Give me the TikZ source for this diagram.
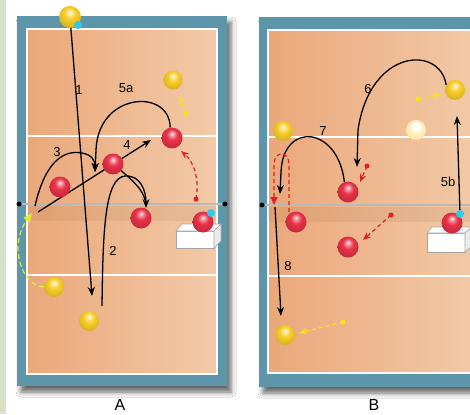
\documentclass[tikz,border=0pt]{standalone}
\usepackage{fontspec}
\setmainfont{Liberation Sans}
\usetikzlibrary{arrows.meta,shadows.blur}
\definecolor{frameblue}{RGB}{93,150,170}
\definecolor{courtL}{RGB}{234,168,122}
\definecolor{courtR}{RGB}{243,202,168}
\definecolor{sage}{RGB}{214,226,198}
\definecolor{redball}{RGB}{234,50,72}
\definecolor{yelball}{RGB}{250,206,40}
\definecolor{paleball}{RGB}{255,240,190}
\definecolor{cyandot}{RGB}{50,200,235}
\definecolor{dashred}{RGB}{228,30,40}
\definecolor{dashyel}{RGB}{248,228,20}
\definecolor{dashlime}{RGB}{220,232,70}
\pgfdeclareradialshading{redsh}{\pgfpoint{0bp}{11bp}}{color(0bp)=(white); color(4bp)=(redball!45!white); color(13bp)=(redball); color(30bp)=(redball!82!black); color(50bp)=(redball!75!black)}
\pgfdeclareradialshading{yelsh}{\pgfpoint{0bp}{11bp}}{color(0bp)=(white); color(4bp)=(yelball!40!white); color(13bp)=(yelball); color(30bp)=(yelball!85!black); color(50bp)=(yelball!78!black)}
\pgfdeclareradialshading{palesh}{\pgfpoint{0bp}{11bp}}{color(0bp)=(white); color(8bp)=(white); color(16bp)=(paleball); color(30bp)=(paleball!85!orange); color(50bp)=(paleball!80!orange)}
\pgfdeclarelayer{front}
\pgfsetlayers{main,front}
\tikzset{
  redp/.style={circle, inner sep=0pt, minimum size=21pt, shading=redsh},
  yelp/.style={circle, inner sep=0pt, minimum size=20pt, shading=yelsh},
  palep/.style={circle, inner sep=0pt, minimum size=20pt, shading=palesh},
  cyanp/.style={circle, fill=cyandot, inner sep=0pt, minimum size=8pt},
  reddot/.style={circle, fill=dashred, inner sep=0pt, minimum size=5pt},
  yeldot/.style={circle, fill=dashyel, inner sep=0pt, minimum size=5pt},
  courtframe/.style={fill=frameblue, blur shadow={shadow xshift=4pt, shadow yshift=-6pt, shadow blur radius=5pt, shadow opacity=60}},
  courtarea/.style={left color=courtL, right color=courtR, draw=white, line width=2pt},
  attackline/.style={white, line width=2pt},
  netband/.style={fill=brown!70!black, opacity=0.10},
  netline/.style={black!70, line width=0.6pt, double=gray!55, double distance=1.6pt},
  netend/.style={circle, fill=black, inner sep=0pt, minimum size=5pt},
  movearrow/.style={line width=1.3pt, -{Stealth[length=9pt,width=7pt]}},
  plainmove/.style={line width=1.3pt},
  redmove/.style={dashred, line width=1.2pt, dash pattern=on 4pt off 3pt, -{Stealth[length=8pt,width=6.5pt]}},
  redloop/.style={dashred, line width=1.2pt, dash pattern=on 4pt off 3pt, -{Triangle[length=8pt,width=7pt]}},
  yelmove/.style={dashyel, line width=1.2pt, dash pattern=on 4pt off 3pt, -{Stealth[length=8pt,width=6.5pt]}},
  limemove/.style={dashlime, line width=1.2pt, dash pattern=on 5pt off 3pt, -{Triangle[length=9pt,width=8pt,fill=dashyel]}},
  boxface/.style={fill=white, draw=gray!70, line width=0.6pt},
  boxside/.style={fill=gray!15, draw=gray!70, line width=0.6pt},
  lbl/.style={font=\fontsize{13}{15}\selectfont, inner sep=0pt},
  capletter/.style={font=\fontsize{16}{18}\selectfont, inner sep=0pt}
}
\begin{document}
\begin{tikzpicture}[x=1pt, y=-1pt]
\useasboundingbox (0,0) rectangle (470,414);
\clip (0,0) rectangle (470,414);
\fill[white] (0,0) rectangle (470,414);
\fill[sage] (0,0) rectangle (6,414);

% ---------- Court A ----------
\fill[courtframe] (17,16) rectangle (227,386);
\path[courtarea] (27,29) rectangle (217,374);
\draw[attackline] (27,136) -- (217,136);
\draw[attackline] (27,275) -- (217,275);
\fill[netband] (27,206) rectangle (217,221);
\node[netend] (nA1) at (19,204) {};
\node[netend] (nA2) at (225,204) {};
\draw[netline] (nA1) -- (nA2);
% box A
\draw[boxface] (176,231) rectangle (214,248);
\draw[boxface] (176,231) -- (182,224) -- (221,224) -- (214,231) -- cycle;
\draw[boxside] (214,231) -- (221,224) -- (221,241) -- (214,248) -- cycle;

% ---------- Court B ----------
\fill[courtframe] (259,17) rectangle (490,387);
\path[courtarea] (268,30) rectangle (480,373);
\draw[attackline] (268,137) -- (480,137);
\draw[attackline] (268,276) -- (480,276);
\fill[netband] (268,207) rectangle (480,222);
\node[netend] (nB1) at (262,205) {};
\coordinate (nB2) at (475,205);
\draw[netline] (nB1) -- (nB2);
% box B
\draw[boxface] (427,233) rectangle (465,252);
\draw[boxface] (427,233) -- (432,227) -- (472,227) -- (465,233) -- cycle;
\draw[boxside] (465,233) -- (472,227) -- (472,246) -- (465,252) -- cycle;

% ---------- Players ----------
\begin{pgfonlayer}{front}
\node[yelp, minimum size=22pt] (yA1) at (70,17) {};
\node[cyanp] (cA1) at (78,25) {};
\node[yelp, minimum size=19pt] (yA2) at (173,80) {};
\node[redp] (rA1) at (172,138) {};
\node[redp] (rA2) at (113,164) {};
\node[redp] (rA3) at (60,187) {};
\node[redp] (rA4) at (141,218) {};
\node[redp] (rA5) at (203,222) {};
\node[cyanp] (cA2) at (211,213) {};
\node[yelp] (yA3) at (54,287) {};
\node[yelp] (yA4) at (89,321) {};

\node[yelp] (yB1) at (283,131) {};
\node[palep] (yB2) at (416,130) {};
\node[yelp] (yB3) at (455,90) {};
\node[redp] (rB1) at (348,192) {};
\node[redp] (rB2) at (296,222) {};
\node[redp] (rB3) at (348,247) {};
\node[redp] (rB4) at (452,223) {};
\node[cyanp] (cB) at (460,214) {};
\node[yelp] (yB4) at (285,335) {};

% start dots of dashed runs
\node[reddot] (dA1) at (196,199) {};
\node[yeldot] (dA3) at (186,114) {};
\node[reddot] (dB1) at (367,166) {};
\node[reddot] (dB3) at (391,215) {};
\node[yeldot] (dB5) at (418,99) {};
\node[yeldot] (dB7) at (343,322) {};
\end{pgfonlayer}

% ---------- Movements A ----------
\coordinate (e1) at (92,296);
\draw[movearrow] (yA1.center) -- (e1);
\coordinate (s2) at (102,306);
\coordinate (e2) at (146,208);
\draw[movearrow] (s2) .. controls (103,235) and (104,178) .. (125,176) .. controls (140,175) and (146,190) .. (e2);
\draw[plainmove] (rA2.center) .. controls (133,180) and (143,190) .. (145,200);
\coordinate (s3) at (35,206);
\coordinate (e3) at (95,172);
\draw[movearrow] (s3) .. controls (46,158) and (66,150) .. (82,153) .. controls (92,155) and (95,160) .. (e3);
\coordinate (s4) at (38,212);
\coordinate (e4) at (151,140);
\draw[movearrow] (s4) -- (e4);
\draw[movearrow] (rA1.100) .. controls (170,88) and (98,92) .. (96,150) -- (e3);
\coordinate (dA2) at (181,151);
\draw[redmove] (dA1.center) .. controls (200,178) and (193,161) .. (dA2);
\coordinate (dA4) at (179,96);
\draw[yelmove] (dA3.center) -- (dA4);
\coordinate (dA5) at (32,213);
\draw[limemove] (yA3.west) .. controls (22,286) and (8,246) .. (dA5);

% ---------- Movements B ----------
\coordinate (e6) at (357,167);
\draw[movearrow] (yB3.150) .. controls (440,45) and (370,48) .. (358,130) -- (e6);
\coordinate (e7) at (280,194);
\draw[movearrow] (rB1.110) .. controls (338,126) and (283,121) .. (281,172) -- (e7);
\coordinate (e5b) at (457,116);
\draw[movearrow] (cB.center) -- (e5b);
\coordinate (s8) at (275,207);
\coordinate (e8) at (281,316);
\draw[movearrow] (s8) -- (e8);
\coordinate (sL) at (289,212);
\coordinate (eL) at (274,205);
\draw[redloop] (sL) -- (289,165) .. controls (289,150) and (274,150) .. (274,165) -- (eL);
\coordinate (dB2) at (360,182);
\draw[redmove] (dB1.center) -- (dB2);
\coordinate (dB4) at (363,240);
\draw[redmove] (dB3.center) -- (dB4);
\coordinate (dB6) at (441,94);
\draw[yelmove] (dB5.center) -- (dB6);
\coordinate (dB8) at (299,333);
\draw[yelmove] (dB7.center) -- (dB8);

% ---------- Labels ----------
\node[lbl] (l1) at (79,90) {1};
\node[lbl] (l5a) at (126,88) {5a};
\node[lbl] (l3) at (57,152) {3};
\node[lbl] (l4) at (127,145) {4};
\node[lbl] (l2) at (113,251) {2};
\node[lbl] (l6) at (368,89) {6};
\node[lbl] (l7) at (323,131) {7};
\node[lbl] (l5b) at (448,182) {5b};
\node[lbl] (l8) at (288,266) {8};
\node[capletter] (lA) at (120,405) {A};
\node[capletter] (lB) at (374,405) {B};
\end{tikzpicture}
\end{document}
